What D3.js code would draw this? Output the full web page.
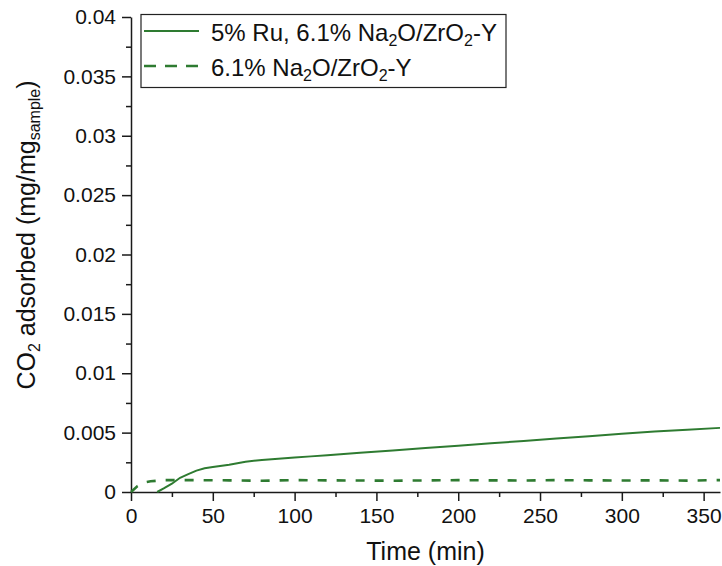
<!DOCTYPE html>
<html>
<head>
<meta charset="utf-8">
<script src="https://cdn.jsdelivr.net/npm/d3@7/dist/d3.min.js"></script>
<style>
  html, body { margin: 0; padding: 0; background: #ffffff; }
  svg { display: block; font-family: "Liberation Sans", Arial, sans-serif; }
</style>
</head>
<body>
<svg id="chart" width="722" height="566"></svg>
<script>
// ---- data ----
const ruTime = [16, 20, 25, 30, 35, 40, 45, 50, 60, 70, 80, 90, 100, 110, 120, 140, 160, 180, 200, 220, 240, 260, 280, 300, 320, 340, 360];
const ruValue = [0, 0.0003, 0.0007, 0.0012, 0.0015, 0.0018, 0.002, 0.0021, 0.0023, 0.00255, 0.0027, 0.0028, 0.0029, 0.003, 0.0031, 0.0033, 0.0035, 0.0037, 0.0039, 0.0041, 0.0043, 0.0045, 0.0047, 0.0049, 0.0051, 0.00525, 0.0054];

const naTime = [0, 4, 8, 12, 20, 40, 60, 80, 100, 120, 140, 160, 180, 200, 220, 240, 260, 280, 300, 320, 340, 360];
const naValue = [0, 0.0005, 0.0008, 0.0009, 0.001, 0.001, 0.00098, 0.00095, 0.001, 0.00098, 0.00097, 0.00095, 0.00097, 0.001, 0.00098, 0.00097, 0.001, 0.00098, 0.00097, 0.00098, 0.00096, 0.001];

const xTicks = [0, 50, 100, 150, 200, 250, 300, 350];
const xTickLabels = ["0", "50", "100", "150", "200", "250", "300", "350"];
const xMinorTicks = [25, 75, 125, 175, 225, 275, 325];
const yTicks = [0, 0.005, 0.01, 0.015, 0.02, 0.025, 0.03, 0.035, 0.04];
const yTickLabels = ["0", "0.005", "0.01", "0.015", "0.02", "0.025", "0.03", "0.035", "0.04"];
const yMinorTicks = [0.0025, 0.0075, 0.0125, 0.0175, 0.0225, 0.0275, 0.0325, 0.0375];

const seriesNames = ["5% Ru, 6.1% Na2O/ZrO2-Y", "6.1% Na2O/ZrO2-Y"];

// ---- layout ----
const svg = d3.select("#chart");
const plotLeft = 131, plotRight = 720, plotTop = 17, plotBottom = 492;
const green = "#2e7b31";
const axisColor = "#1a1a1a";

const x = d3.scaleLinear().domain([0, 360]).range([plotLeft, plotRight]);
const y = d3.scaleLinear().domain([0, 0.04]).range([plotBottom, plotTop]);

// ---- axes ----
function styleAxis(g) {
  g.selectAll(".domain").attr("stroke", axisColor).attr("stroke-width", 1.5);
  g.selectAll(".tick line").attr("stroke", axisColor).attr("stroke-width", 1.5);
  g.selectAll(".tick text").attr("fill", "#111").style("font-size", "21px")
    .style("font-family", '"Liberation Sans", Arial, sans-serif');
}

const xAxis = svg.append("g").attr("transform", `translate(0,${plotBottom})`)
  .call(d3.axisBottom(x).tickValues(xTicks).tickSize(9).tickPadding(7)
    .tickFormat((d, i) => xTickLabels[i]).tickSizeOuter(0));
styleAxis(xAxis);

const xMinor = svg.append("g").attr("transform", `translate(0,${plotBottom})`)
  .call(d3.axisBottom(x).tickValues(xMinorTicks).tickSize(5).tickFormat(""));
xMinor.select(".domain").remove();
styleAxis(xMinor);

const yAxis = svg.append("g").attr("transform", `translate(${plotLeft},0)`)
  .call(d3.axisLeft(y).tickValues(yTicks).tickSize(9).tickPadding(6)
    .tickFormat((d, i) => yTickLabels[i]).tickSizeOuter(0));
styleAxis(yAxis);

const yMinor = svg.append("g").attr("transform", `translate(${plotLeft},0)`)
  .call(d3.axisLeft(y).tickValues(yMinorTicks).tickSize(5).tickFormat(""));
yMinor.select(".domain").remove();
styleAxis(yMinor);

// ---- lines ----
const line = d3.line().x(d => x(d[0])).y(d => y(d[1]));
const ruData = ruTime.map((t, i) => [t, ruValue[i]]);
const naData = naTime.map((t, i) => [t, naValue[i]]);

svg.append("path").datum(naData)
  .attr("d", line).attr("fill", "none").attr("stroke", green)
  .attr("stroke-width", 2.6).attr("stroke-dasharray", "9,10");

svg.append("path").datum(ruData)
  .attr("d", line).attr("fill", "none").attr("stroke", green)
  .attr("stroke-width", 2);

// ---- axis titles ----
svg.append("text").attr("x", (plotLeft + plotRight) / 2).attr("y", 560)
  .attr("text-anchor", "middle").style("font-size", "25px").attr("fill", "#111")
  .text("Time (min)");

const yt = svg.append("text").attr("transform", "translate(35,235) rotate(-90)")
  .attr("text-anchor", "middle").style("font-size", "25px").attr("fill", "#111");
yt.append("tspan").text("CO");
yt.append("tspan").attr("dy", 5).style("font-size", "16px").text("2");
yt.append("tspan").attr("dy", -5).text(" adsorbed (mg/mg");
yt.append("tspan").attr("dy", 5).style("font-size", "16px").text("sample");
yt.append("tspan").attr("dy", -5).text(")");

// ---- legend ----
const lg = svg.append("g");
lg.append("rect").attr("x", 141).attr("y", 14.5).attr("width", 365).attr("height", 73)
  .attr("fill", "#fff").attr("stroke", "#222").attr("stroke-width", 1.2);

const legendRows = [
  { y: 31, dash: null, parts: [["5% Ru, 6.1% Na", 0], ["2", 1], ["O/ZrO", 0], ["2", 1], ["-Y", 0]] },
  { y: 66, dash: "12,9", parts: [["6.1% Na", 0], ["2", 1], ["O/ZrO", 0], ["2", 1], ["-Y", 0]] }
];
legendRows.forEach((r, idx) => {
  lg.append("line").attr("x1", 144).attr("x2", 199).attr("y1", r.y).attr("y2", r.y)
    .attr("stroke", green).attr("stroke-width", idx === 0 ? 2 : 2.6)
    .attr("stroke-dasharray", r.dash);
  const t = lg.append("text").attr("x", 211).attr("y", r.y + 9.5)
    .style("font-size", "24px").attr("fill", "#111")
    .attr("aria-label", seriesNames[idx]);
  let prev = 0;
  r.parts.forEach(([s, sub]) => {
    const shift = sub ? 5 : 0;
    t.append("tspan").attr("dy", shift - prev)
      .style("font-size", sub ? "16px" : "24px").text(s);
    prev = shift;
  });
});
</script>
</body>
</html>
